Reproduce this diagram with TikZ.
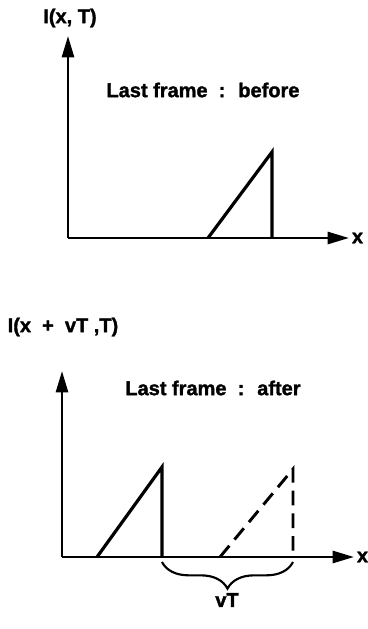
\documentclass[tikz,border=0pt]{standalone}
\usepackage{fontspec}
\setmainfont{Liberation Sans}[BoldFeatures={FakeBold=1.5}]
\usetikzlibrary{arrows.meta, positioning, decorations.pathreplacing}
\tikzset{
  ax/.style={line width=2pt, -{Triangle[length=16pt, width=9pt]}},
  wave/.style={line width=2.4pt, line join=miter},
  ghost/.style={line width=2.2pt, dash pattern=on 11pt off 6pt},
  lbl/.style={font=\bfseries\fontsize{15}{17}\selectfont, inner sep=1pt},
  brc/.style={line width=1.6pt, decorate, decoration={brace, mirror, amplitude=20pt, aspect=0.5}}
}
\begin{document}
\begin{tikzpicture}[x=0.75pt, y=-0.75pt]
  \useasboundingbox (0,0) rectangle (368,629);
  % --- before ---
  \coordinate (o1) at (68,238);
  \coordinate (y1) at (68,36);
  \coordinate (x1) at (349,238);
  \draw[ax] (o1) -- (y1);
  \draw[ax] (o1) -- (x1);
  \node[lbl] (ylab1) at (70,18) {I(x, T)};
  \node[lbl, right=1pt of x1] (xlab1) {x};
  \node[lbl] (cap1) at (203,90) {Last frame \ : \ before};
  \coordinate (a1) at (208,238);
  \coordinate (p1) at (272,152);
  \coordinate (b1) at (272,238);
  \draw[wave] (a1) -- (p1) -- (b1);

  % --- after ---
  \coordinate (o2) at (62,557);
  \coordinate (y2) at (62,371);
  \coordinate (x2) at (354,557);
  \draw[ax] (o2) -- (y2);
  \draw[ax] (o2) -- (x2);
  \node[lbl] (ylab2) at (63,327) {I(x \ + \ vT ,T)};
  \node[lbl, right=1pt of x2] (xlab2) {x};
  \node[lbl] (cap2) at (213,388) {Last frame \ : \ after};
  \coordinate (a2) at (97,557);
  \coordinate (p2) at (162,467);
  \coordinate (b2) at (162,557);
  \draw[wave] (a2) -- (p2) -- (b2);
  \coordinate (a3) at (220,557);
  \coordinate (p3) at (293,469);
  \coordinate (b3) at (293,557);
  \draw[ghost] (a3) -- (p3) -- (b3);
  \coordinate (c2) at (162,562);
  \coordinate (c3) at (293,562);
  \draw[brc] (c2) -- (c3);
  \node[lbl] (shift) at (227,600) {vT};
\end{tikzpicture}
\end{document}
